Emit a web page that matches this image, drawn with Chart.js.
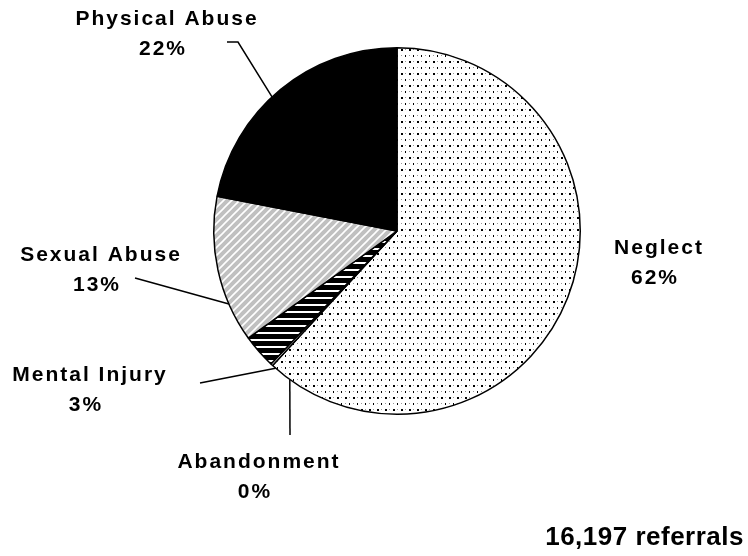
<!DOCTYPE html>
<html>
<head>
<meta charset="utf-8">
<script src="https://cdn.jsdelivr.net/npm/chart.js@4.4.0/dist/chart.umd.min.js"></script>
<style>
    body { margin: 0; background: #ffffff; }
    #wrap { width: 748px; height: 556px; position: relative; }
</style>
</head>
<body>
<div id="wrap">
    <canvas id="pieChart" width="748" height="556"></canvas>
</div>
<script>
// data, clockwise from 12 o'clock
const categories = ["Neglect", "Abandonment", "Mental Injury", "Sexual Abuse", "Physical Abuse"];
const percents = [62, 0.2, 3, 13, 22];
const totalReferrals = "16,197 referrals";

// label placement (layout only)
const labelSpots = {
    "Neglect":        { x: 658, y: 248, line: null },
    "Abandonment":    { x: 258, y: 462, line: [[290, 435]], angle: 215.8 },
    "Mental Injury":  { x: 89,  y: 375, line: [[200, 383]], angle: 221.5 },
    "Sexual Abuse":   { x: 100, y: 255, line: [[135, 278]], angle: 246.5 },
    "Physical Abuse": { x: 166, y: 19,  line: [[227, 42], [238, 42]], angle: 317 }
};

function makePattern(w, h, drawTile) {
    const c = document.createElement('canvas');
    c.width = w;
    c.height = h;
    const g = c.getContext('2d');
    drawTile(g);
    return c.getContext('2d').createPattern(c, 'repeat');
}

const dots = makePattern(8, 12, (g) => {
    g.fillStyle = '#ffffff';
    g.fillRect(0, 0, 8, 12);
    g.fillStyle = '#000000';
    g.fillRect(1, 1, 2, 2);
    g.fillRect(5, 7, 1, 2);
    g.fillStyle = '#9a9a9a';
    g.fillRect(5, 1, 1, 1);
    g.fillRect(1, 7, 1, 1);
});

const hStripes = makePattern(8, 7, (g) => {
    g.fillStyle = '#000000';
    g.fillRect(0, 0, 8, 7);
    g.fillStyle = '#ffffff';
    g.fillRect(0, 3, 8, 2);
});

const diagStripes = makePattern(8, 8, (g) => {
    g.fillStyle = '#c0c0c0';
    g.fillRect(0, 0, 8, 8);
    g.strokeStyle = '#ffffff';
    g.lineWidth = 1.6;
    g.beginPath();
    g.moveTo(-2, 10); g.lineTo(10, -2);
    g.moveTo(-2, 2); g.lineTo(2, -2);
    g.moveTo(6, 10); g.lineTo(10, 6);
    g.stroke();
});

const fills = [dots, '#ffffff', hStripes, diagStripes, '#000000'];

const labelPlugin = {
    id: 'pieLabels',
    afterDraw(chart) {
        const ctx = chart.ctx;
        const arc = chart.getDatasetMeta(0).data[0];
        const cx = arc.x, cy = arc.y, r = arc.outerRadius;

        ctx.save();
        ctx.strokeStyle = '#000000';
        ctx.lineWidth = 1.5;
        categories.forEach((name, i) => {
            const spot = labelSpots[name];
            if (spot.line) {
                const a = spot.angle * Math.PI / 180;
                ctx.beginPath();
                spot.line.forEach((p, k) => {
                    if (k === 0) ctx.moveTo(p[0], p[1]); else ctx.lineTo(p[0], p[1]);
                });
                ctx.lineTo(cx + r * Math.sin(a), cy - r * Math.cos(a));
                ctx.stroke();
            }
        });

        ctx.fillStyle = '#000000';
        ctx.textAlign = 'center';
        ctx.textBaseline = 'middle';
        ctx.font = 'bold 21px "Liberation Sans", Arial, sans-serif';
        ctx.letterSpacing = '2px';
        categories.forEach((name, i) => {
            const spot = labelSpots[name];
            ctx.fillText(name, spot.x + 1, spot.y);
            ctx.fillText(Math.round(percents[i]) + '%', spot.x - 3, spot.y + 30);
        });

        ctx.letterSpacing = '0.5px';
        ctx.font = 'bold 26px "Liberation Sans", Arial, sans-serif';
        ctx.textAlign = 'right';
        ctx.fillText(totalReferrals, 744, 538);
        ctx.restore();
    }
};

new Chart(document.getElementById('pieChart'), {
    type: 'pie',
    data: {
        labels: categories,
        datasets: [{
            data: percents,
            backgroundColor: fills,
            borderColor: '#000000',
            borderWidth: 1.5
        }]
    },
    options: {
        responsive: false,
        animation: false,
        devicePixelRatio: 1,
        layout: { padding: { left: 213, right: 167, top: 47, bottom: 141 } },
        plugins: {
            legend: { display: false },
            tooltip: { enabled: false }
        }
    },
    plugins: [labelPlugin]
});
</script>
</body>
</html>
